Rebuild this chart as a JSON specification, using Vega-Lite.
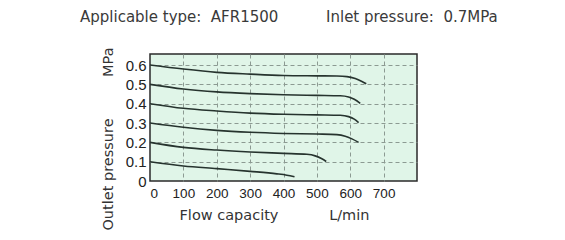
{
  "$schema": "https://vega.github.io/schema/vega-lite/v6.json",
  "width": 267,
  "height": 127,
  "autosize": "none",
  "padding": {"left": 150, "top": 54, "right": 148, "bottom": 59},
  "background": "white",
  "title": {
    "text": "Applicable type:\u00a0\u00a0AFR1500\u00a0\u00a0\u00a0\u00a0\u00a0\u00a0\u00a0\u00a0\u00a0\u00a0Inlet pressure:\u00a0\u00a00.7MPa",
    "anchor": "start",
    "frame": "group",
    "dx": -70,
    "offset": 10,
    "baseline": "alphabetic",
    "font": "DejaVu Sans",
    "fontSize": 15,
    "fontWeight": "normal",
    "color": "#3a3a3a"
  },
  "config": {
    "view": {"fill": "#e0f5e8", "stroke": "#2a2a2a", "strokeWidth": 1.5},
    "axis": {
      "domain": false,
      "ticks": false,
      "labelFont": "Liberation Sans",
      "labelFontSize": 13.5,
      "labelColor": "#222",
      "labelPadding": 5,
      "titleFont": "DejaVu Sans",
      "titleFontSize": 14.5,
      "titleFontWeight": "normal",
      "titleColor": "#333",
      "gridColor": "#8c9a92",
      "gridDash": [4, 3],
      "gridWidth": 1,
      "gridOpacity": {"condition": {"test": "datum.value === 0", "value": 0}, "value": 1}
    }
  },
  "data": {
    "values": [
      {"curve": "0.6", "flow": 0, "p": 0.6},
      {"curve": "0.6", "flow": 100, "p": 0.579},
      {"curve": "0.6", "flow": 200, "p": 0.562},
      {"curve": "0.6", "flow": 300, "p": 0.553},
      {"curve": "0.6", "flow": 400, "p": 0.546},
      {"curve": "0.6", "flow": 500, "p": 0.544},
      {"curve": "0.6", "flow": 560, "p": 0.543},
      {"curve": "0.6", "flow": 590, "p": 0.54},
      {"curve": "0.6", "flow": 615, "p": 0.53},
      {"curve": "0.6", "flow": 635, "p": 0.515},
      {"curve": "0.6", "flow": 648, "p": 0.503},
      {"curve": "0.5", "flow": 0, "p": 0.5},
      {"curve": "0.5", "flow": 100, "p": 0.476},
      {"curve": "0.5", "flow": 200, "p": 0.461},
      {"curve": "0.5", "flow": 300, "p": 0.452},
      {"curve": "0.5", "flow": 400, "p": 0.446},
      {"curve": "0.5", "flow": 500, "p": 0.443},
      {"curve": "0.5", "flow": 570, "p": 0.441},
      {"curve": "0.5", "flow": 595, "p": 0.435},
      {"curve": "0.5", "flow": 612, "p": 0.423},
      {"curve": "0.5", "flow": 630, "p": 0.402},
      {"curve": "0.4", "flow": 0, "p": 0.4},
      {"curve": "0.4", "flow": 100, "p": 0.376},
      {"curve": "0.4", "flow": 200, "p": 0.362},
      {"curve": "0.4", "flow": 300, "p": 0.351},
      {"curve": "0.4", "flow": 400, "p": 0.345},
      {"curve": "0.4", "flow": 500, "p": 0.342},
      {"curve": "0.4", "flow": 570, "p": 0.34},
      {"curve": "0.4", "flow": 595, "p": 0.333},
      {"curve": "0.4", "flow": 612, "p": 0.32},
      {"curve": "0.4", "flow": 625, "p": 0.302},
      {"curve": "0.3", "flow": 0, "p": 0.3},
      {"curve": "0.3", "flow": 100, "p": 0.278},
      {"curve": "0.3", "flow": 200, "p": 0.262},
      {"curve": "0.3", "flow": 300, "p": 0.252},
      {"curve": "0.3", "flow": 400, "p": 0.246},
      {"curve": "0.3", "flow": 500, "p": 0.243},
      {"curve": "0.3", "flow": 560, "p": 0.24},
      {"curve": "0.3", "flow": 585, "p": 0.232},
      {"curve": "0.3", "flow": 605, "p": 0.218},
      {"curve": "0.3", "flow": 625, "p": 0.2},
      {"curve": "0.2", "flow": 0, "p": 0.2},
      {"curve": "0.2", "flow": 100, "p": 0.174},
      {"curve": "0.2", "flow": 200, "p": 0.16},
      {"curve": "0.2", "flow": 300, "p": 0.15},
      {"curve": "0.2", "flow": 400, "p": 0.143},
      {"curve": "0.2", "flow": 470, "p": 0.138},
      {"curve": "0.2", "flow": 495, "p": 0.13},
      {"curve": "0.2", "flow": 515, "p": 0.115},
      {"curve": "0.2", "flow": 528, "p": 0.101},
      {"curve": "0.1", "flow": 0, "p": 0.1},
      {"curve": "0.1", "flow": 100, "p": 0.078},
      {"curve": "0.1", "flow": 200, "p": 0.064},
      {"curve": "0.1", "flow": 300, "p": 0.05},
      {"curve": "0.1", "flow": 380, "p": 0.037},
      {"curve": "0.1", "flow": 410, "p": 0.03},
      {"curve": "0.1", "flow": 433, "p": 0.022}
    ]
  },
  "mark": {"type": "line", "interpolate": "monotone", "color": "#26332e", "strokeWidth": 1.6},
  "encoding": {
    "x": {
      "field": "flow",
      "type": "quantitative",
      "scale": {"domain": [0, 800], "nice": false},
      "axis": {
        "values": [0, 100, 200, 300, 400, 500, 600, 700],
        "title": "Flow capacity\u00a0\u00a0\u00a0\u00a0\u00a0\u00a0\u00a0\u00a0\u00a0\u00a0\u00a0L/min",
        "titleX": 124,
        "titleY": 38,
        "titleAlign": "center",
        "titleBaseline": "alphabetic"
      }
    },
    "y": {
      "field": "p",
      "type": "quantitative",
      "scale": {"domain": [0, 0.657], "nice": false, "zero": true},
      "axis": {
        "values": [0, 0.1, 0.2, 0.3, 0.4, 0.5, 0.6],
        "format": "~g",
        "labelFontSize": 15,
        "labelPadding": 4,
        "title": "Outlet pressure\u00a0\u00a0\u00a0\u00a0\u00a0\u00a0\u00a0\u00a0\u00a0MPa",
        "titleX": -38,
        "titleY": 84.5,
        "titleAngle": -90,
        "titleAlign": "center",
        "titleBaseline": "alphabetic"
      }
    },
    "detail": {"field": "curve"}
  }
}
